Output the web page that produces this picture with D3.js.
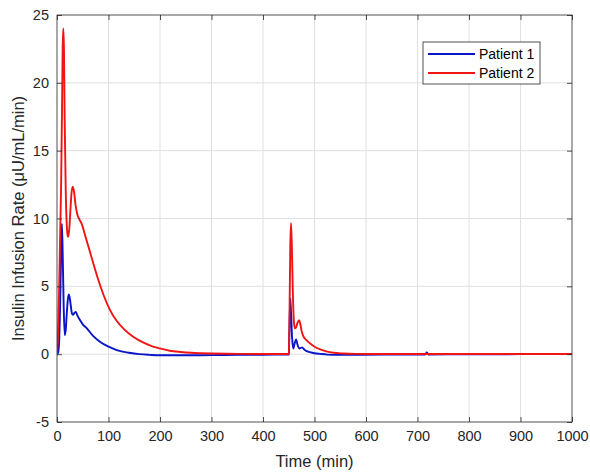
<!DOCTYPE html>
<html>
<head>
<meta charset="utf-8">
<script src="https://cdn.jsdelivr.net/npm/d3@7/dist/d3.min.js"></script>
<style>
  html, body { margin: 0; padding: 0; background: #fff; }
  svg { display: block; font-family: "Liberation Sans", Arial, Helvetica, sans-serif; }
</style>
</head>
<body>
<svg id="chart" width="590" height="472"></svg>
<script>
// ---- data ----
const seriesNames = ["Patient 1", "Patient 2"];
const xTicks = [0, 100, 200, 300, 400, 500, 600, 700, 800, 900, 1000];
const yTicks = [-5, 0, 5, 10, 15, 20, 25];

const p1Time = [0,2,4,6,8,9.5,11,13,15,17,19,21,23,25,27,29,31,34,36.5,39,44,50,58,70,84,100,116,140,160,180,200,250,300,350,400,449,
  450,451.5,453,454.5,456.5,459,461.5,464.3,467,470.7,473,476,480,485,491,500,511,525,545,580,650,715,718,721,800,900,1000];
const p1Rate = [0,0.1,0.8,3.5,7.5,9.6,7.5,3.5,1.4,1.8,3,4,4.4,4.1,3.5,3.0,2.9,3.05,3.12,2.9,2.55,2.2,1.9,1.35,0.9,0.55,0.3,0.1,0.0,-0.05,-0.08,-0.08,-0.07,-0.05,-0.04,-0.03,
  0,2,4.1,3,1.2,0.42,0.8,1.08,0.7,0.42,0.45,0.5,0.35,0.22,0.15,0.07,0.02,-0.03,-0.05,-0.05,-0.03,-0.02,0.12,-0.02,-0.01,0,0];

const p2Time = [0,2,4,6,8,10,11,12.3,13.5,15,17,19,21,22,24,26,28,30.5,33,36,39.5,44,48,55,62,70,80,90,103,115,130,148,165,185,200,219,240,260,280,300,330,360,400,430,449,
  450,451.5,453,454.4,456,458,460,462,464,467,470,472,475,478,484,491,500,511,523,537,555,580,620,700,800,900,1000];
const p2Rate = [0,1.5,4.5,8.5,12.5,19,22.5,24,22.5,17,12,9.5,8.7,8.65,9.3,10.6,11.8,12.35,12,11,10.3,9.9,9.6,8.7,7.8,6.75,5.5,4.4,3.25,2.5,1.85,1.28,0.9,0.58,0.42,0.25,0.16,0.1,0.07,0.05,0.03,0.02,0.01,0.01,0.01,
  0.05,3,8,9.65,8,4.5,2.4,1.9,1.95,2.3,2.5,2.3,1.7,1.35,1.05,0.8,0.55,0.35,0.2,0.1,0.05,0.02,0.01,0.01,0.01,0.01,0.01];

const colors = ["#0a14c8", "#f01414"];

// ---- layout ----
const svg = d3.select("#chart");
const L = 57, R = 572, T = 15, B = 422;
const x = d3.scaleLinear().domain([0, 1000]).range([L, R]);
const y = d3.scaleLinear().domain([-5, 25]).range([B, T]);
const axisColor = "#262626";
const fmt = d => String(d);

// grid
const g = svg.append("g");
g.selectAll(".vg").data(xTicks.slice(1, -1)).enter().append("line")
  .attr("x1", d => x(d)).attr("x2", d => x(d)).attr("y1", T).attr("y2", B)
  .attr("stroke", "#dfdfdf").attr("stroke-width", 1);
g.selectAll(".hg").data(yTicks.slice(1, -1)).enter().append("line")
  .attr("y1", d => y(d)).attr("y2", d => y(d)).attr("x1", L).attr("x2", R)
  .attr("stroke", "#dfdfdf").attr("stroke-width", 1);

// lines
const line = d3.line().x(d => x(d[0])).y(d => y(d[1])).curve(d3.curveMonotoneX);
const data1 = p1Time.map((t, i) => [t, p1Rate[i]]);
const data2 = p2Time.map((t, i) => [t, p2Rate[i]]);
svg.append("clipPath").attr("id", "clip").append("rect")
  .attr("x", L).attr("y", T).attr("width", R - L).attr("height", B - T);
const lg = svg.append("g").attr("clip-path", "url(#clip)");
lg.append("path").datum(data1).attr("d", line).attr("fill", "none")
  .attr("stroke", colors[0]).attr("stroke-width", 1.9).attr("stroke-linejoin", "round");
lg.append("path").datum(data2).attr("d", line).attr("fill", "none")
  .attr("stroke", colors[1]).attr("stroke-width", 1.9).attr("stroke-linejoin", "round");

// axes (ticks inward, all four sides)
const tk = 5;
const xb = svg.append("g").attr("transform", `translate(0,${B})`)
  .call(d3.axisBottom(x).tickValues(xTicks).tickSizeInner(-tk).tickSizeOuter(0).tickPadding(9).tickFormat(fmt));
const xt = svg.append("g").attr("transform", `translate(0,${T})`)
  .call(d3.axisTop(x).tickValues(xTicks).tickSizeInner(-tk).tickSizeOuter(0).tickFormat(""));
const yl = svg.append("g").attr("transform", `translate(${L},0)`)
  .call(d3.axisLeft(y).tickValues(yTicks).tickSizeInner(-tk).tickSizeOuter(0).tickPadding(8).tickFormat(fmt));
const yr = svg.append("g").attr("transform", `translate(${R},0)`)
  .call(d3.axisRight(y).tickValues(yTicks).tickSizeInner(-tk).tickSizeOuter(0).tickFormat(""));
[xb, xt, yl, yr].forEach(a => {
  a.select(".domain").remove();
  a.selectAll("line").attr("stroke", axisColor).attr("stroke-width", 0.8);
  a.selectAll("text").attr("fill", axisColor).style("font-size", "14.5px")
    .style("font-family", "'Liberation Sans', Arial, sans-serif");
});
svg.append("rect").attr("x", L).attr("y", T).attr("width", R - L).attr("height", B - T)
  .attr("fill", "none").attr("stroke", axisColor).attr("stroke-width", 0.8);

// axis labels
svg.append("text").attr("x", (L + R) / 2).attr("y", 467).attr("text-anchor", "middle")
  .attr("fill", axisColor).style("font-size", "16.5px").text("Time (min)");
svg.append("text").attr("transform", `translate(24,${(T + B) / 2}) rotate(-90)`)
  .attr("text-anchor", "middle").attr("fill", axisColor).style("font-size", "16.5px")
  .text("Insulin Infusion Rate (μU/mL/min)");

// legend
const lgX = 423, lgY = 42, lgW = 117, lgH = 42;
const leg = svg.append("g");
leg.append("rect").attr("x", lgX).attr("y", lgY).attr("width", lgW).attr("height", lgH)
  .attr("fill", "#fff").attr("stroke", axisColor).attr("stroke-width", 0.8);
seriesNames.forEach((name, i) => {
  const ry = lgY + 12 + i * 19;
  leg.append("line").attr("x1", lgX + 5).attr("x2", lgX + 52).attr("y1", ry).attr("y2", ry)
    .attr("stroke", colors[i]).attr("stroke-width", 1.9);
  leg.append("text").attr("x", lgX + 56).attr("y", ry + 5).attr("fill", "#000")
    .style("font-size", "14px").text(name);
});
</script>
</body>
</html>
